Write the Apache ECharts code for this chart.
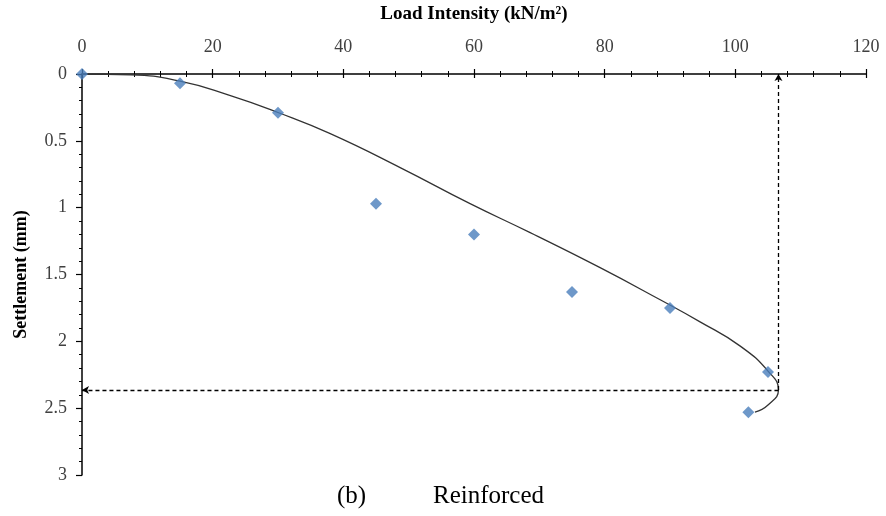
<!DOCTYPE html>
<html>
<head>
<meta charset="utf-8">
<script src="https://cdn.jsdelivr.net/npm/echarts@6/dist/echarts.min.js"></script>
<style>html,body{margin:0;padding:0;background:#fff}#c{width:886px;height:516px}</style>
</head>
<body>
<div id="c"></div>
<script>
// Observed data points (load intensity kN/m², settlement mm)
const loadValues = [0, 15, 30, 45, 60, 75, 90, 105, 102];
const settlementValues = [0, 0.07, 0.29, 0.97, 1.2, 1.63, 1.75, 2.23, 2.53];
// Fitted trend curve
const curveLoad = [0, 7.4, 15, 22.6, 30, 38, 48.7, 59.4, 68.6, 79.3, 88.5, 94.6, 100.7, 105.1, 106.6, 105, 103];
const curveSettle = [0, 0.006, 0.054, 0.16, 0.288, 0.446, 0.70, 0.97, 1.187, 1.449, 1.689, 1.854, 2.034, 2.228, 2.363, 2.476, 2.53];
// Ultimate load guide
const ultimateLoad = 106.6;
const ultimateSettle = 2.365;
const xTicks = [0, 20, 40, 60, 80, 100, 120];
const yTicks = [0, 0.5, 1, 1.5, 2, 2.5, 3];

const font = '"Liberation Serif", "Times New Roman", serif';
const axisCol = '#000';
const labelStyle = {fontFamily: font, fontSize: 18, color: '#404040'};

const chart = echarts.init(document.getElementById('c'));
const baseX = {
  type: 'value', position: 'top', min: xTicks[0], max: xTicks[xTicks.length-1], interval: 20,
  splitLine: {show: false}
};
const baseY = {
  type: 'value', inverse: true, min: yTicks[0], max: yTicks[yTicks.length-1], interval: 0.5,
  splitLine: {show: false}
};
chart.setOption({
  animation: false,
  grid: {left: 82, right: 20, top: 74, bottom: 41, containLabel: false},
  xAxis: [
    Object.assign({}, baseX, {
      name: 'Load Intensity (kN/m²)', nameLocation: 'middle', nameGap: 50,
      nameTextStyle: {fontFamily: font, fontSize: 19, fontWeight: 'bold', color: '#000'},
      axisLine: {show: true, lineStyle: {color: axisCol, width: 1.5}},
      axisTick: {show: true, inside: false, length: 5, lineStyle: {color: axisCol, width: 1.2}},
      minorTick: {show: true, splitNumber: 5, length: 3, lineStyle: {color: axisCol, width: 1}},
      axisLabel: Object.assign({margin: 18}, labelStyle)
    }),
    Object.assign({}, baseX, {
      axisLine: {show: false},
      axisTick: {show: true, inside: true, length: 4, lineStyle: {color: axisCol, width: 1.2}},
      minorTick: {show: true, splitNumber: 5, length: 3, lineStyle: {color: axisCol, width: 1}},
      axisLabel: {show: false}
    })
  ],
  yAxis: [
    Object.assign({}, baseY, {
      name: 'Settlement (mm)', nameLocation: 'middle', nameGap: 52,
      nameTextStyle: {fontFamily: font, fontSize: 18, fontWeight: 'bold', color: '#000'},
      axisLine: {show: true, lineStyle: {color: axisCol, width: 1.5}},
      axisTick: {show: true, inside: false, length: 6, lineStyle: {color: axisCol, width: 1.2}},
      minorTick: {show: true, splitNumber: 5, length: 3, lineStyle: {color: axisCol, width: 1}},
      axisLabel: Object.assign({margin: 15}, labelStyle)
    }),
    Object.assign({}, baseY, {
      axisLine: {show: false},
      axisTick: {show: true, inside: true, length: 2, lineStyle: {color: axisCol, width: 1.2}},
      minorTick: {show: true, splitNumber: 5, length: 3, lineStyle: {color: axisCol, width: 1}},
      axisLabel: {show: false}
    })
  ],
  series: [
    {
      type: 'line', xAxisIndex: 0, yAxisIndex: 0, smooth: 0.5, showSymbol: false,
      data: curveLoad.map((v, i) => [v, curveSettle[i]]),
      lineStyle: {color: '#333', width: 1.3},
      markLine: {
        silent: true, symbol: ['none', 'arrow'], symbolSize: [6, 7],
        label: {show: false},
        lineStyle: {color: '#000', type: [4, 3], width: 1.3},
        data: [
          [{coord: [ultimateLoad, ultimateSettle]}, {coord: [ultimateLoad, 0]}],
          [{coord: [ultimateLoad, ultimateSettle]}, {coord: [0, ultimateSettle]}]
        ]
      },
      z: 2
    },
    {
      type: 'scatter', xAxisIndex: 0, yAxisIndex: 0, symbol: 'diamond', symbolSize: 12,
      itemStyle: {color: '#4A7EBB'},
      data: loadValues.map((v, i) => [v, settlementValues[i]]),
      z: 3
    }
  ],
  graphic: [
    {type: 'text', left: 337, top: 484, style: {text: '(b)', font: '25px ' + font, fill: '#000'}},
    {type: 'text', left: 433, top: 484, style: {text: 'Reinforced', font: '25px ' + font, fill: '#000'}}
  ]
});
</script>
</body>
</html>
